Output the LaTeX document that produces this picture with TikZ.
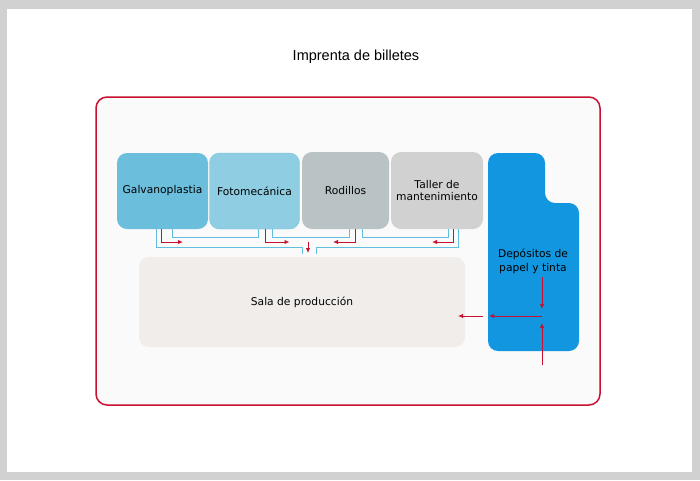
\documentclass[tikz,border=0pt]{standalone}
\usepackage{fontspec}
\setmainfont{DejaVu Sans}
\newfontfamily\titlefont{Liberation Sans}
\usetikzlibrary{arrows.meta}
\definecolor{framered}{RGB}{200,16,48}
\definecolor{linkblue}{RGB}{98,190,222}
\definecolor{galvfill}{RGB}{107,191,221}
\definecolor{fotofill}{RGB}{142,205,226}
\definecolor{fotoline}{RGB}{124,195,222}
\definecolor{rodfill}{RGB}{185,195,198}
\definecolor{tallerfill}{RGB}{209,209,209}
\definecolor{depfill}{RGB}{17,150,223}
\definecolor{salafill}{RGB}{240,237,235}
\begin{document}
\begin{tikzpicture}[x=1pt,y=-1pt]
            \tikzstyle{every node}+=[inner sep=0pt,outer sep=0pt]
            \tikzstyle{room}=[rounded corners=10pt,minimum height=76pt,align=center,
                font=\fontsize{10.7}{12.5}\selectfont]
            \tikzstyle{bluelink}=[linkblue,line width=1pt]
            \tikzstyle{redlink}=[framered,line width=1pt,-{Latex[length=5pt,width=4.5pt]}]
            \useasboundingbox (0,0) rectangle (700,480);
            \fill [black!18] (0,0) rectangle (700,480);
            \fill [white] (7,9) rectangle (692,472);
            \node (title) at (356,57) {\titlefont\fontsize{14.5}{16}\selectfont Imprenta de billetes};
            \draw [framered,line width=1.5pt,fill=black!2,rounded corners=11pt] (96,97) rectangle (600,405);
            \node [room,fill=galvfill,minimum width=91pt] (galv) at (162.5,191) {Galvanoplastia};
            \node [room,fill=fotofill,draw=fotoline,minimum width=90pt] (foto) at (254.5,191) {Fotomec\'anica};
            \node [room,fill=rodfill,minimum width=87pt,minimum height=77pt] (rod) at (345.5,190.5) {Rodillos};
            \node [room,fill=tallerfill,minimum width=92pt,minimum height=77pt] (taller) at (437,190.5) {Taller de\\mantenimiento};
            \node [room,fill=salafill,minimum width=326pt,minimum height=90pt] (sala) at (302,302) {Sala de producci\'on};
            \fill [depfill,rounded corners=10pt] (488,351) -- (488,153) -- (545,153) -- (545,203) -- (579,203) -- (579,351) -- cycle;
            \node [align=center,font=\fontsize{10.7}{14}\selectfont] (dep) at (533,261) {Dep\'ositos de\\papel y tinta};
            \coordinate (sl) at (302,254);
            \coordinate (sr) at (316,254);
            \coordinate (sdown) at (308,242);
            \coordinate (djn) at (542,316);
            \coordinate (dtop) at (542,277);
            \coordinate (dbot) at (542,365);
            \coordinate (dl) at (489,316);
            \coordinate (sout) at (483,316);
            % blue links under the rooms
            \draw [bluelink] ([xshift=39pt]galv.south west) -- ++(0,18) -| (sl);
            \draw [bluelink] ([xshift=55pt]galv.south west) -- ++(0,8) -| ([xshift=49pt]foto.south west);
            \draw [bluelink] ([xshift=63pt]foto.south west) -- ++(0,8) -| ([xshift=47pt]rod.south west);
            \draw [bluelink] ([xshift=60pt]rod.south west) -- ++(0,8) -| ([xshift=57pt]taller.south west);
            \draw [bluelink] ([xshift=67pt]taller.south west) -- ++(0,18) -| (sr);
            % red arrows
            \draw [redlink] ([xshift=44pt]galv.south west) -- ++(0,13) -- ++(22,0);
            \draw [redlink] ([xshift=56pt]foto.south west) -- ++(0,13) -- ++(24,0);
            \draw [redlink] ([xshift=53pt]rod.south west) -- ++(0,13) -- ++(-22,0);
            \draw [redlink] ([xshift=62pt]taller.south west) -- ++(0,13) -- ++(-21,0);
            \draw [redlink] (sdown) -- ++(0,11);
            \draw [redlink] (dtop) -- ([yshift=7pt]djn);
            \draw [redlink] (dbot) -- ([yshift=-7pt]djn);
            \draw [redlink] (djn) -- (dl);
            \draw [redlink] (sout) -- ++(-25,0);
        \end{tikzpicture}
\end{document}
